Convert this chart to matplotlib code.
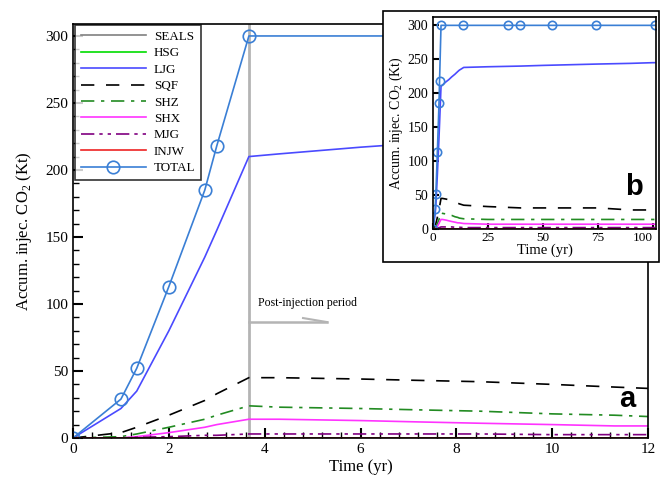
import matplotlib.pyplot as plt
from matplotlib.ticker import MultipleLocator
from matplotlib.patches import Rectangle

plt.rcParams['font.family'] = ['Liberation Serif', 'DejaVu Serif']
plt.rcParams['mathtext.fontset'] = 'custom'
plt.rcParams['mathtext.rm'] = 'Liberation Serif'

# simulation output times (yr) shared by the component series
t_sim = [0, 1, 1.33, 2, 2.75, 3, 3.67, 4.3, 6, 7.2, 8.5, 10, 11.3, 12,
         14, 25, 40, 50, 75, 90, 100, 101]

seals = [0] * len(t_sim)
hsg = [0] * len(t_sim)
ljg = [0, 22, 35, 80, 135, 155, 210, 212, 217, 220, 224, 228, 232, 234,
       238, 239, 240, 241, 243, 244, 245, 245]
sqf = [0, 4, 8, 17, 28, 33, 45, 45, 44, 43, 42, 40, 38, 37,
       35, 33, 31, 31, 31, 28, 28, 28]
shz = [0, 1, 3, 8, 14, 17, 24, 23, 22, 21, 20, 18, 17, 16,
       15, 14, 14, 14, 14, 14, 14, 14]
shx = [0, 0, 1, 4, 8, 10, 14, 14, 13, 12, 11, 10, 9, 9,
       8, 7, 7, 7, 7, 7, 7, 7]
mjg = [0, 0, 0.5, 1, 2, 2, 3, 3, 3, 3, 3, 2.5, 2.5, 2.5,
       2, 2, 2, 2, 2, 2, 2, 2]
injw = [0] * len(t_sim)

# total injected mass, sampled at its own output times
t_total = [0, 1, 1.33, 2, 2.75, 3, 3.67, 13.5, 34, 39.5, 54, 74, 101]
total = [0, 29, 52, 113, 185, 218, 300, 300, 300, 300, 300, 300, 300]

t_end_injection = 3.67

series = [
    ('SEALS', seals, dict(color='#808080', ls='-')),
    ('HSG', hsg, dict(color='#00dd00', ls='-')),
    ('LJG', ljg, dict(color='#4a4aff', ls='-')),
    ('SQF', sqf, dict(color='black', ls=(0, (8, 7)))),
    ('SHZ', shz, dict(color='#228b22', ls=(0, (8, 4, 2, 4)))),
    ('SHX', shx, dict(color='#ff33ff', ls='-')),
    ('MJG', mjg, dict(color='#800080', ls=(0, (8, 3, 2, 3, 2, 3)))),
    ('INJW', injw, dict(color='#ee2222', ls='-')),
]
total_color = '#3a7fd5'


def draw_series(ax, ms):
    for name, vals, style in series:
        ax.plot(t_sim, vals, lw=1.2, label=name, **style)
    ax.plot(t_total, total, color=total_color, lw=1.2, marker='o', ms=ms,
            mfc='none', mec=total_color, mew=1.2, label='TOTAL')


def style_ticks(ax, size):
    ax.tick_params(which='both', direction='in', labelsize=size,
                   top=False, right=False)
    ax.tick_params(which='major', length=7, width=1.5)
    ax.tick_params(which='minor', length=4, width=1)
    for sp in ax.spines.values():
        sp.set_linewidth(1.2)


fig = plt.figure(figsize=(6.6, 4.78), dpi=100)
ax = fig.add_axes([0.1106, 0.0837, 0.8714, 0.8663])

draw_series(ax, 9)
ax.axvline(t_end_injection, color='#b4b4b4', lw=2, zorder=1)

# post-injection marker: half-headed arrow
ax.plot([t_end_injection, 5.3], [86.5, 86.5], color='#b4b4b4', lw=1.8)
ax.plot([4.8, 5.3], [89.5, 86.5], color='#b4b4b4', lw=1.5)
ax.text(3.87, 101, 'Post-injection period', fontsize=8.5, va='center')

ax.set_xlim(0, 12)
ax.set_ylim(0, 309)
ax.xaxis.set_major_locator(MultipleLocator(2))
ax.xaxis.set_minor_locator(MultipleLocator(0.4))
ax.yaxis.set_major_locator(MultipleLocator(50))
ax.yaxis.set_minor_locator(MultipleLocator(10))
style_ticks(ax, 11)
ax.set_xlabel('Time (yr)', fontsize=12, labelpad=2)
ax.set_ylabel('Accum. injec. CO$_2$ (Kt)', fontsize=12, labelpad=8)
ax.text(0.963, 0.095, 'a', transform=ax.transAxes, fontsize=21,
        fontweight='bold', family='Liberation Sans', ha='center', va='center')

leg = ax.legend(loc='upper left', bbox_to_anchor=(0.003, 0.998),
                fontsize=9.4, frameon=True, fancybox=False, handlelength=5.0,
                handletextpad=0.6, borderpad=0.45, labelspacing=0.33,
                borderaxespad=0)
leg.get_frame().set_edgecolor('black')
leg.get_frame().set_linewidth(1.2)

# inset panel on a white card
fig.patches.append(Rectangle((0.580, 0.452), 0.418, 0.525, transform=fig.transFigure,
                             facecolor='white', edgecolor='black', lw=1.2, zorder=3))
axb = fig.add_axes([0.656, 0.521, 0.338, 0.443], zorder=4)
draw_series(axb, 6)
axb.set_xlim(0, 101.5)
axb.set_ylim(0, 312)
axb.xaxis.set_major_locator(MultipleLocator(25))
axb.yaxis.set_major_locator(MultipleLocator(50))
style_ticks(axb, 10)
axb.tick_params(which='major', length=4)
axb.tick_params(axis='x', labelsize=9.5, pad=2)
axb.set_xlabel('Time (yr)', fontsize=10.5, labelpad=0)
axb.set_ylabel('Accum. injec. CO$_2$ (Kt)', fontsize=10, labelpad=2)
axb.text(0.9, 0.2, 'b', transform=axb.transAxes, fontsize=21,
         fontweight='bold', family='Liberation Sans', ha='center', va='center')

fig.canvas.draw()
# keep the last inset tick label inside the figure
for lb in axb.get_xticklabels():
    if lb.get_text() == '100':
        lb.set_horizontalalignment('right')

fig.savefig('out.png', dpi=100)
